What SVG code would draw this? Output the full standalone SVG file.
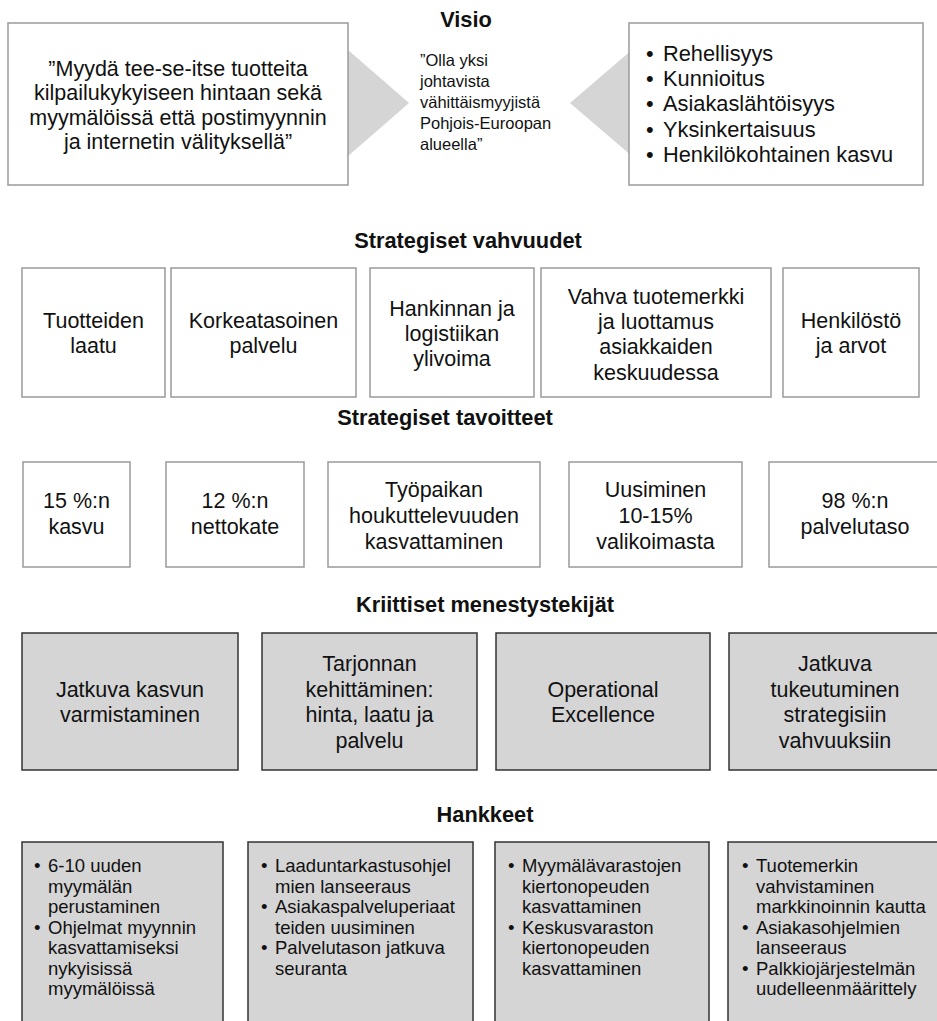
<svg xmlns="http://www.w3.org/2000/svg" width="937" height="1021" viewBox="0 0 937 1021">
<style>
text{font-family:"Liberation Sans",Arial,sans-serif;fill:#111}
.title{font-size:21.8px;font-weight:bold;text-anchor:middle}
.box{fill:#fff;stroke:#9a9a9a;stroke-width:1.5}
.dark{fill:#d5d5d5;stroke:#333;stroke-width:1.5}
.c{font-size:21.5px;text-anchor:middle}
.b{font-size:21.8px}
.m{font-size:16.5px}
.s{font-size:18.5px}
.chev{fill:#d5d5d5}
</style>
<rect width="937" height="1021" fill="#fff"/>

<g id="titles">
<text class="title" x="466" y="27">Visio</text>
<text class="title" x="468" y="248">Strategiset vahvuudet</text>
<text class="title" x="445" y="425">Strategiset tavoitteet</text>
<text class="title" x="485" y="612">Kriittiset menestystekijät</text>
<text class="title" x="485" y="822">Hankkeet</text>
</g>

<g id="connectors">
<polygon class="chev" points="340,43 409,103 340,163"/>
<polygon class="chev" points="640,43 570,103 640,163"/>
</g>

<g id="mission">
<rect class="box" x="8" y="23" width="340" height="162"/>
<text class="c" x="178" y="76">”Myydä tee-se-itse tuotteita</text>
<text class="c" x="178" y="100">kilpailukykyiseen hintaan sekä</text>
<text class="c" x="178" y="125">myymälöissä että postimyynnin</text>
<text class="c" x="178" y="149">ja internetin välityksellä”</text>
</g>

<g id="vision">
<text class="m" x="420" y="66">”Olla yksi</text>
<text class="m" x="420" y="87">johtavista</text>
<text class="m" x="420" y="108">vähittäismyyjistä</text>
<text class="m" x="420" y="129">Pohjois-Euroopan</text>
<text class="m" x="420" y="150">alueella”</text>
</g>

<g id="values">
<rect class="box" x="629" y="23" width="294" height="162"/>
<text class="b" x="646" y="61">•</text><text class="b" x="663" y="61">Rehellisyys</text>
<text class="b" x="646" y="86">•</text><text class="b" x="663" y="86">Kunnioitus</text>
<text class="b" x="646" y="111">•</text><text class="b" x="663" y="111">Asiakaslähtöisyys</text>
<text class="b" x="646" y="137">•</text><text class="b" x="663" y="137">Yksinkertaisuus</text>
<text class="b" x="646" y="162">•</text><text class="b" x="663" y="162">Henkilökohtainen kasvu</text>
</g>

<g id="s1">
<rect class="box" x="22" y="268" width="143" height="129"/>
<text class="c" x="93.5" y="328">Tuotteiden</text>
<text class="c" x="93.5" y="353">laatu</text>
</g>
<g id="s2">
<rect class="box" x="171" y="268" width="185" height="129"/>
<text class="c" x="263.5" y="328">Korkeatasoinen</text>
<text class="c" x="263.5" y="353">palvelu</text>
</g>
<g id="s3">
<rect class="box" x="370" y="268" width="164" height="129"/>
<text class="c" x="452" y="316">Hankinnan ja</text>
<text class="c" x="452" y="341">logistiikan</text>
<text class="c" x="452" y="366">ylivoima</text>
</g>
<g id="s4">
<rect class="box" x="541" y="268" width="230" height="129"/>
<text class="c" x="656" y="304">Vahva tuotemerkki</text>
<text class="c" x="656" y="329">ja luottamus</text>
<text class="c" x="656" y="354">asiakkaiden</text>
<text class="c" x="656" y="380">keskuudessa</text>
</g>
<g id="s5">
<rect class="box" x="783" y="268" width="136" height="129"/>
<text class="c" x="851" y="328">Henkilöstö</text>
<text class="c" x="851" y="353">ja arvot</text>
</g>

<g id="t1">
<rect class="box" x="23" y="462" width="107" height="105"/>
<text class="c" x="76.5" y="508">15 %:n</text>
<text class="c" x="76.5" y="534">kasvu</text>
</g>
<g id="t2">
<rect class="box" x="166" y="462" width="138" height="105"/>
<text class="c" x="235" y="508">12 %:n</text>
<text class="c" x="235" y="534">nettokate</text>
</g>
<g id="t3">
<rect class="box" x="328" y="462" width="212" height="105"/>
<text class="c" x="434" y="497">Työpaikan</text>
<text class="c" x="434" y="523">houkuttelevuuden</text>
<text class="c" x="434" y="549">kasvattaminen</text>
</g>
<g id="t4">
<rect class="box" x="569" y="462" width="173" height="105"/>
<text class="c" x="655.5" y="497">Uusiminen</text>
<text class="c" x="655.5" y="523">10-15%</text>
<text class="c" x="655.5" y="549">valikoimasta</text>
</g>
<g id="t5">
<rect class="box" x="769" y="462" width="175" height="105"/>
<text class="c" x="855" y="508">98 %:n</text>
<text class="c" x="855" y="534">palvelutaso</text>
</g>

<g id="k1">
<rect class="dark" x="22" y="633" width="216" height="137"/>
<text class="c" x="130" y="697">Jatkuva kasvun</text>
<text class="c" x="130" y="722">varmistaminen</text>
</g>
<g id="k2">
<rect class="dark" x="262" y="633" width="215" height="137"/>
<text class="c" x="369.5" y="671">Tarjonnan</text>
<text class="c" x="369.5" y="697">kehittäminen:</text>
<text class="c" x="369.5" y="722">hinta, laatu ja</text>
<text class="c" x="369.5" y="748">palvelu</text>
</g>
<g id="k3">
<rect class="dark" x="496" y="633" width="214" height="137"/>
<text class="c" x="603" y="697">Operational</text>
<text class="c" x="603" y="722">Excellence</text>
</g>
<g id="k4">
<rect class="dark" x="729" y="633" width="215" height="137"/>
<text class="c" x="835" y="671">Jatkuva</text>
<text class="c" x="835" y="697">tukeutuminen</text>
<text class="c" x="835" y="722">strategisiin</text>
<text class="c" x="835" y="748">vahvuuksiin</text>
</g>

<g id="h1">
<rect class="dark" x="22" y="842" width="201" height="190"/>
<text class="s" x="34" y="872">•</text><text class="s" x="48" y="872">6-10 uuden</text>
<text class="s" x="48" y="892.5">myymälän</text>
<text class="s" x="48" y="913">perustaminen</text>
<text class="s" x="34" y="933.5">•</text><text class="s" x="48" y="933.5">Ohjelmat myynnin</text>
<text class="s" x="48" y="954">kasvattamiseksi</text>
<text class="s" x="48" y="974.5">nykyisissä</text>
<text class="s" x="48" y="995">myymälöissä</text>
</g>
<g id="h2">
<rect class="dark" x="248" y="842" width="225" height="190"/>
<text class="s" x="261" y="872">•</text><text class="s" x="275" y="872">Laaduntarkastusohjel</text>
<text class="s" x="275" y="892.5">mien lanseeraus</text>
<text class="s" x="261" y="913">•</text><text class="s" x="275" y="913">Asiakaspalveluperiaat</text>
<text class="s" x="275" y="933.5">teiden uusiminen</text>
<text class="s" x="261" y="954">•</text><text class="s" x="275" y="954">Palvelutason jatkuva</text>
<text class="s" x="275" y="974.5">seuranta</text>
</g>
<g id="h3">
<rect class="dark" x="495" y="842" width="214" height="190"/>
<text class="s" x="508" y="872">•</text><text class="s" x="522" y="872">Myymälävarastojen</text>
<text class="s" x="522" y="892.5">kiertonopeuden</text>
<text class="s" x="522" y="913">kasvattaminen</text>
<text class="s" x="508" y="933.5">•</text><text class="s" x="522" y="933.5">Keskusvaraston</text>
<text class="s" x="522" y="954">kiertonopeuden</text>
<text class="s" x="522" y="974.5">kasvattaminen</text>
</g>
<g id="h4">
<rect class="dark" x="728" y="842" width="216" height="190"/>
<text class="s" x="742" y="872">•</text><text class="s" x="756" y="872">Tuotemerkin</text>
<text class="s" x="756" y="892.5">vahvistaminen</text>
<text class="s" x="756" y="913">markkinoinnin kautta</text>
<text class="s" x="742" y="933.5">•</text><text class="s" x="756" y="933.5">Asiakasohjelmien</text>
<text class="s" x="756" y="954">lanseeraus</text>
<text class="s" x="742" y="974.5">•</text><text class="s" x="756" y="974.5">Palkkiojärjestelmän</text>
<text class="s" x="756" y="995">uudelleenmäärittely</text>
</g>
</svg>
